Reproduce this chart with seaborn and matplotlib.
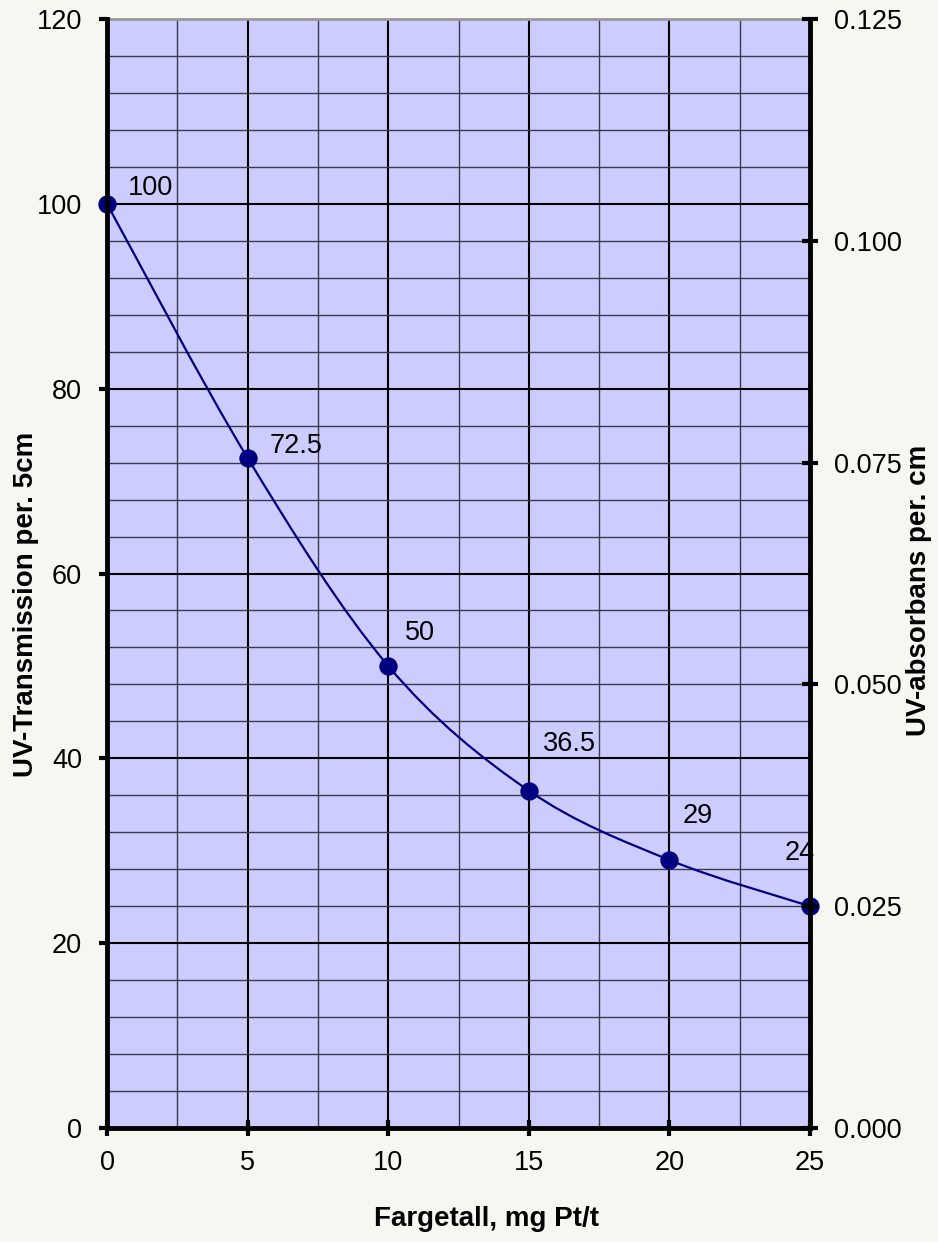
import numpy as np
import pandas as pd
import seaborn as sns
import matplotlib
matplotlib.use('Agg')
import matplotlib.pyplot as plt
from matplotlib.path import Path
from matplotlib.patches import PathPatch
from matplotlib.ticker import MultipleLocator, FormatStrFormatter

# data
fargetall = [0, 5, 10, 15, 20, 25]
transmission = [100, 72.5, 50, 36.5, 29, 24]
point_labels = ['100', '72.5', '50', '36.5', '29', '24']
# label placement (pixels from the point: left edge, vertical centre)
label_offsets = [(21, 19), (22, 15), (17, 36), (14, 50), (13, 47), (-25, 56)]

df = pd.DataFrame({'x': fargetall, 'y': transmission})

sns.set_style('white')
plt.rcParams['font.family'] = ['Liberation Sans', 'DejaVu Sans']
plt.rcParams['text.color'] = 'black'
plt.rcParams['axes.labelcolor'] = 'black'
plt.rcParams['xtick.color'] = 'black'
plt.rcParams['ytick.color'] = 'black'

bg = '#F7F7F2'
tick_fs = 19.5
label_fs = 20

fig = plt.figure(figsize=(9.38, 12.42), dpi=100, facecolor=bg)
ax = fig.add_axes([107 / 938, 114 / 1242, 703 / 938, 1109 / 1242])
ax.set_facecolor('#CCCCFF')

ax.set_xlim(0, 25)
ax.set_ylim(0, 120)
ax.xaxis.set_major_locator(MultipleLocator(5))
ax.xaxis.set_minor_locator(MultipleLocator(2.5))
ax.yaxis.set_major_locator(MultipleLocator(20))
ax.yaxis.set_minor_locator(MultipleLocator(4))
ax.grid(which='major', color='black', lw=1.5, zorder=0)
ax.grid(which='minor', color='#3a3a4a', lw=1.0, zorder=0)
ax.set_axisbelow(True)

# smooth line like Excel (Catmull-Rom drawn as bezier in data coords)
pts = df[['x', 'y']].to_numpy(dtype=float)
ext = np.vstack([pts[0], pts, pts[-1]])
verts = [tuple(pts[0])]
codes = [Path.MOVETO]
for i in range(len(pts) - 1):
    p0, p1, p2, p3 = ext[i], ext[i + 1], ext[i + 2], ext[i + 3]
    verts += [tuple(p1 + (p2 - p0) / 6), tuple(p2 - (p3 - p1) / 6), tuple(p2)]
    codes += [Path.CURVE4] * 3
ax.add_patch(PathPatch(Path(verts, codes), fill=False, edgecolor='#000080',
                       lw=1.6, zorder=3, clip_on=False))

sns.scatterplot(data=df, x='x', y='y', ax=ax, s=175, color='#000080',
                edgecolor='#000080', linewidth=0, zorder=4, clip_on=False)

for xv, yv, lab, off in zip(fargetall, transmission, point_labels, label_offsets):
    ax.annotate(lab, (xv, yv), xytext=off, textcoords='offset pixels',
                fontsize=tick_fs, ha='left', va='center_baseline', color='black', zorder=5)

for side in ['left', 'bottom', 'right']:
    ax.spines[side].set_color('black')
    ax.spines[side].set_linewidth(3.5)
    ax.spines[side].set_zorder(6)
ax.spines['top'].set_color('#999999')
ax.spines['top'].set_linewidth(2)

ax.tick_params(axis='y', which='major', direction='out', length=6, width=3,
               labelsize=tick_fs, pad=12, left=True)
ax.tick_params(axis='x', which='major', direction='inout', length=12, width=3,
               labelsize=tick_fs, pad=10, bottom=True)
ax.tick_params(which='minor', length=0)

ax.set_xlabel('Fargetall, mg Pt/t', fontsize=label_fs, fontweight='bold')
ax.set_ylabel('UV-Transmission per. 5cm', fontsize=label_fs, fontweight='bold')
ax.xaxis.set_label_coords(0.540, -0.0705)
ax.yaxis.set_label_coords(-0.097, 0.4725)

ax2 = ax.twinx()
ax2.set_ylim(0, 0.125)
ax2.yaxis.set_major_locator(MultipleLocator(0.025))
ax2.yaxis.set_major_formatter(FormatStrFormatter('%.3f'))
ax2.tick_params(axis='y', direction='inout', length=12, width=3,
                labelsize=tick_fs, pad=11, right=True)
for side in ['left', 'bottom', 'top', 'right']:
    ax2.spines[side].set_visible(False)
ax2.set_ylabel('UV-absorbans per. cm', fontsize=label_fs, fontweight='bold')
ax2.yaxis.set_label_coords(1.137, 0.485)

fig.savefig('out.png', dpi=100, facecolor=bg)
